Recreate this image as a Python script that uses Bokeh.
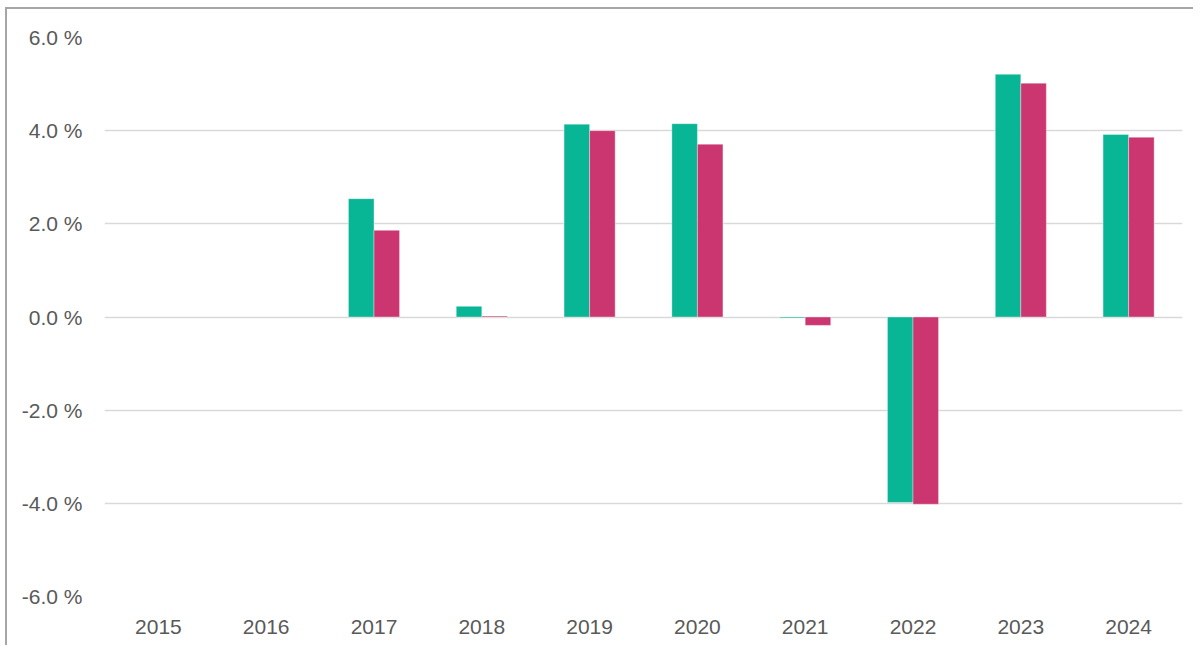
import numpy as np
from bokeh.plotting import figure
from bokeh.models import ColumnDataSource, FactorRange, Range1d, FixedTicker
from bokeh.transform import dodge
from bokeh.embed import file_html
from bokeh.resources import INLINE

years = ["2015", "2016", "2017", "2018", "2019", "2020", "2021", "2022", "2023", "2024"]
series_a = [np.nan, np.nan, 2.54, 0.23, 4.14, 4.15, -0.02, -3.98, 5.21, 3.92]
series_b = [np.nan, np.nan, 1.86, 0.02, 4.00, 3.71, -0.18, -4.02, 5.02, 3.86]
y_ticks = [-6, -4, -2, 0, 2, 4, 6]
y_tick_labels = ["-6.0 %", "-4.0 %", "-2.0 %", "0.0 %", "2.0 %", "4.0 %", "6.0 %"]

GREEN = "#08B594"
PINK = "#CC3670"
TEXT = "#595959"
FONT = "Liberation Sans"

source = ColumnDataSource(dict(year=years, a=series_a, b=series_b))

p = figure(
    x_range=FactorRange(*years, range_padding=0),
    y_range=Range1d(-6, 6),
    width=1188, height=638,
    output_backend="svg", toolbar_location=None,
    min_border_left=97, min_border_right=13, min_border_top=28, min_border_bottom=51,
)
p.styles = {"border-left": "2px solid #A6A6A6", "border-top": "2px solid #A6A6A6",
            "margin-left": "5px", "margin-top": "7px"}
p.outline_line_color = None
p.background_fill_color = "white"
p.border_fill_color = "white"

bw = 0.237
p.vbar(x=dodge("year", -bw / 2, range=p.x_range), top="a", bottom=0, width=bw,
       source=source, fill_color=GREEN, line_color="white", line_width=0.6, line_alpha=0.6)
p.vbar(x=dodge("year", bw / 2, range=p.x_range), top="b", bottom=0, width=bw,
       source=source, fill_color=PINK, line_color="white", line_width=0.6, line_alpha=0.6)

p.xgrid.grid_line_color = None
p.ygrid.grid_line_color = "#D9D9D9"
p.ygrid.grid_line_width = 1.5
p.yaxis.ticker = FixedTicker(ticks=y_ticks)
p.yaxis.major_label_overrides = {t: lab for t, lab in zip(y_ticks, y_tick_labels)}

for ax in (p.xaxis[0], p.yaxis[0]):
    ax.axis_line_color = None
    ax.major_tick_line_color = None
    ax.minor_tick_line_color = None
    ax.major_label_text_color = TEXT
    ax.major_label_text_font = FONT
    ax.major_label_text_font_size = "21px"

p.yaxis.major_label_standoff = 16
p.xaxis.major_label_standoff = 17

open("out.html", "w").write(file_html(p, INLINE))
